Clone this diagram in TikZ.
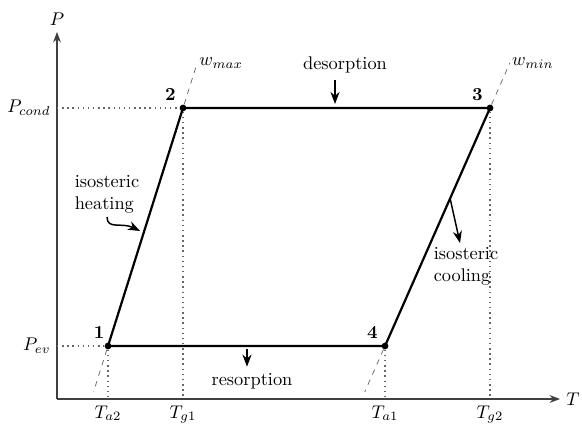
\documentclass[tikz,border=0pt]{standalone}
\usepackage{amsmath,amssymb}
\usepackage{tikz}
\usetikzlibrary{arrows.meta,calc}
\usetikzlibrary{positioning}
\tikzset{cyc/.style={very thick,line join=round},
  guide/.style={dotted,thick,black!60},
  isoline/.style={dashed,black!60},
  statept/.style={circle,fill=black,inner sep=1.3pt},
  procnote/.style={align=left,inner sep=2pt}}

\begin{document}
\begin{tikzpicture}[x=0.545pt,y=-0.545pt,>=Stealth,line join=round]
\useasboundingbox (0,0) rectangle (582,427);
% --- axes
\coordinate (O) at (57,399);
\coordinate (ytop) at (57,32);
\coordinate (xend) at (560,399);
\draw[->,semithick,black!75] (O) -- (ytop);
\draw[->,semithick,black!75] (O) -- (xend);
\node[above] (plabel) at (ytop) {$P$};
\node[right] (tlabel) at (xend) {$T$};
% --- states of the cycle
\node[statept] (s1) at (108,346) {};
\node[statept] (s2) at (183,108) {};
\node[statept] (s3) at (490,108) {};
\node[statept] (s4) at (385,346) {};
\node[above left=-1pt and -3pt of s1] (l1) {\textbf{1}};
\node[above left=-1pt and -1pt of s2] (l2) {\textbf{2}};
\node[above left=-1pt and -1pt of s3] (l3) {\textbf{3}};
\node[above left=-1pt and -1pt of s4] (l4) {\textbf{4}};
% --- guide lines to the axes
\draw[guide] (O |- s2) -- (s2) -- (s2 |- O);
\draw[guide] (O |- s1) -- (s1) -- (s1 |- O);
\draw[guide] (s3) -- (s3 |- O);
\draw[guide] (s4) -- (s4 |- O);
\node[left] (pcond) at (O |- s2) {$P_{cond}$};
\node[left] (pev) at (O |- s1) {$P_{ev}$};
\node[below] (ta2) at (s1 |- O) {$T_{a2}$};
\node[below] (tg1) at (s2 |- O) {$T_{g1}$};
\node[below] (ta1) at (s4 |- O) {$T_{a1}$};
\node[below] (tg2) at (s3 |- O) {$T_{g2}$};
% --- isosteres
\coordinate (wmax) at ($(s1)!1.19!(s2)$);
\coordinate (wmin) at ($(s4)!1.19!(s3)$);
\coordinate (lowa) at ($(s2)!1.193!(s1)$);
\coordinate (lowb) at ($(s3)!1.193!(s4)$);
\draw[isoline] (s2) -- (wmax);
\draw[isoline] (s3) -- (wmin);
\node[right,inner sep=1pt] (wmaxlbl) at (wmax) {$w_{max}$};
\node[right,inner sep=1pt] (wminlbl) at (wmin) {$w_{min}$};
\draw[isoline] (s1) -- (lowa);
\draw[isoline] (s4) -- (lowb);
% --- cycle
\draw[cyc] (s1.center) -- (s2.center) -- (s3.center) -- (s4.center) -- cycle;
% --- process labels
\node (des) at (345,65) {desorption};
\coordinate (desend) at (335,104);
\draw[->,thick] (des.south -| desend) -- (desend);
\node (res) at (252,381) {resorption};
\coordinate (resstart) at (247,349);
\draw[->,thick] (resstart) -- (resstart |- res.north);
\node[procnote] (heat) at (107,194) {isosteric\\heating};
\coordinate (heatend) at (140,231);
\draw[->,thick] (heat.south) .. controls (107,230) and (122,222) .. (heatend);
\node[procnote] (cool) at (466,266) {isosteric\\cooling};
\coordinate (coolstart) at ($(s4)!0.62!(s3)$);
\draw[->,thick] (coolstart) -- ($(cool.north)+(-6,0)$);
\end{tikzpicture}
\end{document}
